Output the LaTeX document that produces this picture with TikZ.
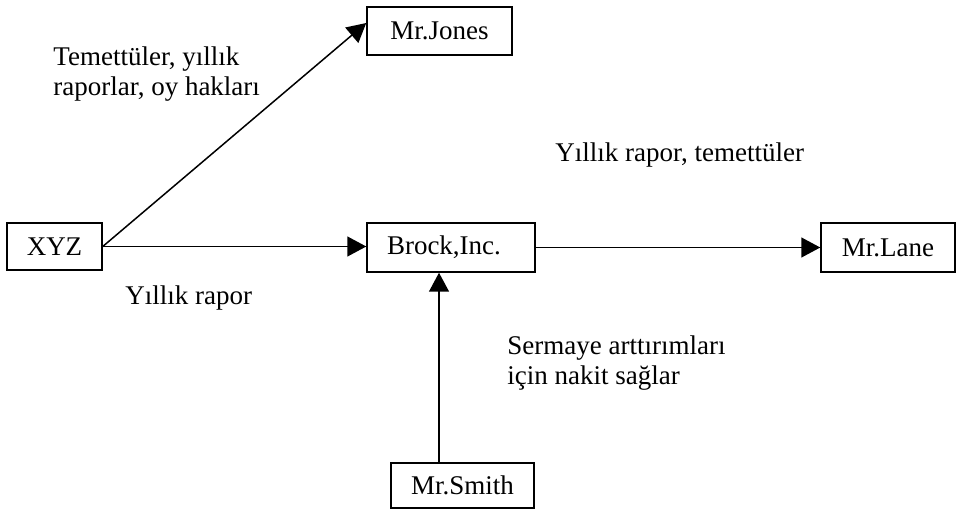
\documentclass[tikz,border=0pt]{standalone}
\usepackage{fontspec}
\setmainfont{Liberation Serif}
\usetikzlibrary{arrows.meta}
\begin{document}
\begin{tikzpicture}[x=0.5pt,y=-0.5pt,
  every node/.style={font=\fontsize{13.5}{15.4}\selectfont},
  box/.style={draw, line width=0.75pt, inner xsep=0pt, inner ysep=0pt},
  flow/.style={line width=0.75pt, -{Triangle[length=9.5pt,width=10pt]}},
  note/.style={inner sep=0pt, align=left}]
\useasboundingbox (0,0) rectangle (957,512);

% parties
\node[box, minimum width=72.5pt, minimum height=24pt] (jones) at (439.5,31) {Mr.Jones};
\node[box, minimum width=47.5pt, minimum height=23.5pt] (xyz) at (54.5,246.5) {XYZ};
\node[box, minimum width=84pt, minimum height=24.5pt, inner xsep=10pt,
      text width=64pt, align=left] (brock) at (451,247.5) {Brock,Inc.};
\node[box, minimum width=67pt, minimum height=24.5pt] (lane) at (888,247.5) {Mr.Lane};
\node[box, minimum width=71.5pt, minimum height=22.5pt] (smith) at (462.5,485.5) {Mr.Smith};

% flows between the parties
\coordinate (vx) at (439,0);
\draw[flow] (xyz.east) -- ([yshift=4pt]jones.west);
\draw[flow] (xyz.east) -- (xyz.east -| brock.west);
\draw[flow] (brock.east) -- (lane.west);
\draw[flow] (smith.north -| vx) -- (brock.south -| vx);

% flow descriptions
\node[note, anchor=north west] (l1) at (53,46) {Temettüler, yıllık\\raporlar, oy hakları};
\node[note, anchor=base west] (l2) at (125,305) {Yıllık rapor};
\node[note, anchor=base west] (l3) at (555,162) {Yıllık rapor, temettüler};
\node[note, anchor=north west] (l4) at (507,335) {Sermaye arttırımları\\için nakit sağlar};
\end{tikzpicture}
\end{document}
